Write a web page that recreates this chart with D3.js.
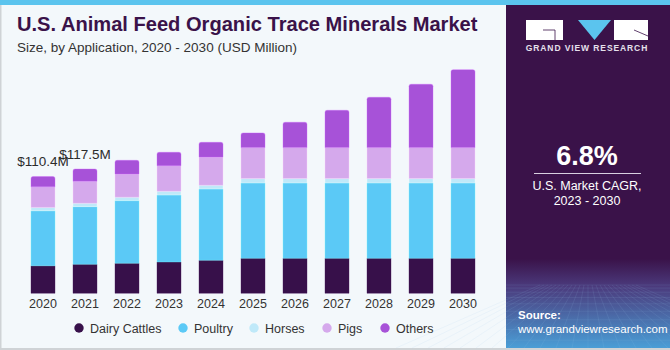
<!DOCTYPE html>
<html>
<head>
<meta charset="utf-8">
<script src="https://cdn.jsdelivr.net/npm/d3@7"></script>
<style>
  body { margin: 0; background: #fff; }
  svg { display: block; font-family: "Liberation Sans", Arial, sans-serif; }
</style>
</head>
<body>
<svg width="670" height="350"></svg>
<script>
// data (USD Million)
const years = ['2020', '2021', '2022', '2023', '2024', '2025', '2026', '2027', '2028', '2029', '2030'];
const segments = ['Dairy Cattles', 'Poultry', 'Horses', 'Pigs', 'Others'];
const dairy   = [26.0, 27.4, 28.4, 29.6, 31.2, 33.1, 33.1, 33.1, 33.1, 33.1, 33.1];
const poultry = [52.0, 54.5, 59.2, 63.3, 67.4, 71.2, 71.2, 71.2, 71.2, 71.2, 71.2];
const horses  = [3.2, 3.2, 3.2, 3.5, 3.5, 4.1, 4.1, 4.1, 4.1, 4.1, 4.1];
const pigs    = [19.4, 20.8, 22.0, 24.2, 26.7, 29.3, 29.3, 29.3, 29.3, 29.3, 29.3];
const others  = [9.8, 11.6, 12.9, 12.7, 13.9, 13.9, 24.0, 35.3, 47.6, 59.9, 73.7];
const labels  = { '2020': '$110.4M', '2021': '$117.5M' };

const colors = ['#37104a', '#5bc9f6', '#bfe9f9', '#d5a9ec', '#a752d8'];

const svg = d3.select('svg');
const width = +svg.attr('width');
const height = +svg.attr('height');

// background + frame
svg.append('rect').attr('width', width).attr('height', height).attr('fill', '#f3f8fb');
svg.append('rect').attr('x', 0).attr('y', 0).attr('width', width).attr('height', 5).attr('fill', '#5bc4ee');
svg.append('rect').attr('x', 0).attr('y', 5).attr('width', 1.5).attr('height', height - 5).attr('fill', '#cfd3d6');
svg.append('rect').attr('x', 0).attr('y', height - 2).attr('width', width).attr('height', 2).attr('fill', '#cfd3d6');

// title
svg.append('text')
    .attr('x', 17).attr('y', 31)
    .attr('font-size', 20.1).attr('font-weight', 'bold')
    .attr('fill', '#3a1249')
    .text('U.S. Animal Feed Organic Trace Minerals Market');
svg.append('text')
    .attr('x', 17).attr('y', 52)
    .attr('font-size', 13.5)
    .attr('fill', '#333')
    .text('Size, by Application, 2020 - 2030 (USD Million)');

// stacked data
const table = years.map((y, i) => ({
    year: y,
    'Dairy Cattles': dairy[i],
    'Poultry': poultry[i],
    'Horses': horses[i],
    'Pigs': pigs[i],
    'Others': others[i]
}));
const stacked = d3.stack().keys(segments)(table);

const xScale = d3.scaleBand()
    .domain(years)
    .range([10, 496])
    .paddingInner(18 / 42)
    .paddingOuter(0.5);

const yScale = d3.scaleLinear()
    .domain([0, 200])
    .range([293.3, 293.3 - 211.6]);

const colorScale = d3.scaleOrdinal().domain(segments).range(colors);

// rect with rounded top corners
const topRounded = (x, y, w, h, r) =>
    `M${x},${y + h}V${y + r}Q${x},${y} ${x + r},${y}H${x + w - r}Q${x + w},${y} ${x + w},${y + r}V${y + h}Z`;

const g = svg.append('g');
const layer = g.selectAll('.layer').data(stacked)
    .enter().append('g')
        .attr('class', 'layer')
        .attr('fill', d => colorScale(d.key));

layer.selectAll('path').data(d => d.map(v => Object.assign(v, { key: d.key })))
    .enter().append('path')
        .attr('d', d => {
            const x = xScale(d.data.year);
            const y0 = yScale(d[0]);
            const y1 = yScale(d[1]);
            const r = d.key === 'Others' ? 2 : 0;
            return topRounded(x, y1, xScale.bandwidth(), y0 - y1, r);
        })
        .attr('stroke', d => d3.color(colorScale(d.key)).brighter(0.6))
        .attr('stroke-opacity', 0.45)
        .attr('stroke-width', 0.8);

// value labels
g.selectAll('.value-label').data(years.filter(y => labels[y]))
    .enter().append('text')
        .attr('class', 'value-label')
        .attr('x', y => xScale(y) + xScale.bandwidth() / 2)
        .attr('y', y => yScale(stacked[stacked.length - 1][years.indexOf(y)][1]) - 10)
        .attr('text-anchor', 'middle')
        .attr('font-size', 13.5)
        .attr('fill', '#2b2b2b')
        .text(y => labels[y]);

// x axis
const xAxis = d3.axisBottom(xScale).tickSize(0).tickPadding(6);
const xAxisG = svg.append('g')
    .attr('transform', `translate(0, ${yScale(0)})`)
    .call(xAxis);
xAxisG.select('.domain').remove();
xAxisG.selectAll('text')
    .attr('font-size', 12.5)
    .attr('font-family', '"Liberation Sans", Arial, sans-serif')
    .attr('fill', '#333');

// legend
const legendX = [79, 183, 254, 327, 385];
const legend = svg.selectAll('.legend').data(segments)
    .enter().append('g')
        .attr('class', 'legend')
        .attr('transform', (d, i) => `translate(${legendX[i]}, 328)`);
legend.append('circle').attr('r', 4.7).attr('fill', d => colorScale(d));
legend.append('text')
    .attr('x', 11).attr('y', 4.5)
    .attr('font-size', 12.5)
    .attr('fill', '#333')
    .text(d => d);

// right panel
const panel = svg.append('g');
const defs = svg.append('defs');
const grad = defs.append('linearGradient')
    .attr('id', 'panelGrad')
    .attr('x1', 0).attr('y1', 0).attr('x2', 0).attr('y2', 1);
grad.append('stop').attr('offset', 0).attr('stop-color', '#3a1249');
grad.append('stop').attr('offset', 0.74).attr('stop-color', '#3a1249');
grad.append('stop').attr('offset', 0.82).attr('stop-color', '#4b3a7c');
grad.append('stop').attr('offset', 1).attr('stop-color', '#4a9ed6');

panel.append('rect')
    .attr('x', 506).attr('y', 5)
    .attr('width', width - 506).attr('height', height - 7)
    .attr('fill', 'url(#panelGrad)');

// faint grid in the bottom of the panel
const gridG = panel.append('g').attr('stroke', '#9ec9ec').attr('stroke-opacity', 0.16).attr('stroke-width', 0.7);
d3.range(0, 12).forEach(i => {
    const yy = 285 + i * i * 0.55 + i * 2.5;
    gridG.append('line').attr('x1', 506).attr('x2', width).attr('y1', yy).attr('y2', yy);
});
d3.range(-12, 13).forEach(i => {
    gridG.append('line')
        .attr('x1', 588 + i * 4).attr('y1', 285)
        .attr('x2', 588 + i * 16).attr('y2', 348);
});

// logo
const logo = panel.append('g');
logo.append('rect').attr('x', 526).attr('y', 20).attr('width', 37).attr('height', 20).attr('fill', '#fff');
logo.append('path').attr('d', 'M543,30H555V40').attr('fill', 'none').attr('stroke', '#3a1249').attr('stroke-width', 0.8);
logo.append('path').attr('d', 'M578,20H611L594.5,40Z').attr('fill', '#5bc4ee');
logo.append('rect').attr('x', 614).attr('y', 20).attr('width', 34).attr('height', 20).attr('fill', '#fff');
logo.append('path').attr('d', 'M634,30L648,36').attr('stroke', '#3a1249').attr('stroke-width', 0.8);
logo.append('text')
    .attr('x', 587).attr('y', 51)
    .attr('text-anchor', 'middle')
    .attr('font-size', 8.5).attr('font-weight', 'bold')
    .attr('letter-spacing', 0.9)
    .attr('fill', '#e6e0ec')
    .text('GRAND VIEW RESEARCH');

// CAGR
panel.append('text')
    .attr('x', 587).attr('y', 165)
    .attr('text-anchor', 'middle')
    .attr('font-size', 27).attr('font-weight', 'bold')
    .attr('fill', '#fff')
    .text('6.8%');
panel.append('line')
    .attr('x1', 534).attr('x2', 641).attr('y1', 173.5).attr('y2', 173.5)
    .attr('stroke', '#d8d0e0').attr('stroke-width', 1);
panel.append('text')
    .attr('x', 587).attr('y', 190)
    .attr('text-anchor', 'middle')
    .attr('font-size', 12.5)
    .attr('fill', '#fff')
    .text('U.S. Market CAGR,');
panel.append('text')
    .attr('x', 587).attr('y', 205)
    .attr('text-anchor', 'middle')
    .attr('font-size', 12.5)
    .attr('fill', '#fff')
    .text('2023 - 2030');

// source
panel.append('text')
    .attr('x', 518).attr('y', 319)
    .attr('font-size', 11.5).attr('font-weight', 'bold')
    .attr('fill', '#fff')
    .text('Source:');
panel.append('text')
    .attr('x', 518).attr('y', 333)
    .attr('font-size', 11.5)
    .attr('fill', '#fff')
    .text('www.grandviewresearch.com');
</script>
</body>
</html>
